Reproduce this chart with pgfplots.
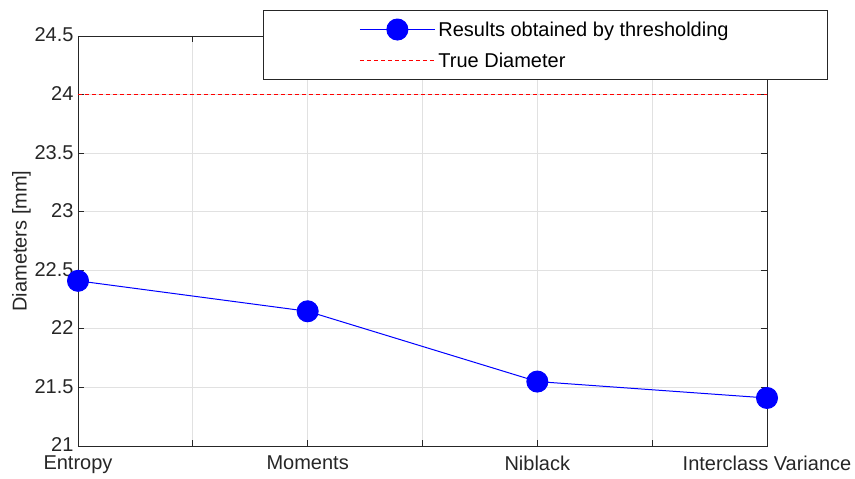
\documentclass[border=0pt]{standalone}
\usepackage{fontspec}
\setmainfont{Liberation Sans}
\usepackage{pgfplots}
\pgfplotsset{compat=1.18}
\definecolor{axgray}{RGB}{38,38,38}
\definecolor{gridgray}{RGB}{225,225,225}
\pgfplotsset{
  legmark/.style={legend image code/.code={
    \draw[##1, line width=1pt, mark repeat=2, mark phase=2] plot coordinates {(0pt,0pt) (37.5pt,0pt) (75pt,0pt)};
  }},
  legline/.style={legend image code/.code={
    \draw[##1, line width=0.9pt] (0pt,0pt) -- (75pt,0pt);
  }},
}
\begin{document}
\begin{tikzpicture}
\path[use as bounding box] (-78pt,-33pt) rectangle (777pt,446pt);
\begin{axis}[
  at={(0,0)}, anchor=south west,
  scale only axis,
  width=689pt, height=410pt,
  xmin=0, xmax=3, ymin=21, ymax=24.5,
  xtick={0,0.5,1,1.5,2,2.5,3},
  xticklabels={Entropy,,Moments,,Niblack,,Interclass Variance},
  ytick={21,21.5,22,22.5,23,23.5,24,24.5},
  yticklabels={21,21.5,22,22.5,23,23.5,24,24.5},
  grid=major,
  major grid style={gridgray, line width=0.8pt},
  axis line style={axgray, line width=0.8pt},
  tick style={axgray, line width=0.8pt},
  tick align=inside,
  major tick length=6pt,
  ticklabel style={font=\fontsize{20}{22}\selectfont, text=axgray},
  xticklabel style={yshift=-6pt},
  yticklabel style={xshift=-1pt, yshift=1pt},
  ylabel={Diameters [mm]},
  ylabel style={font=\fontsize{20}{22}\selectfont, text=axgray},
  ylabel shift=-3pt,
  legend cell align=left,
  legend style={
    at={(rel axis cs:0.6785,0.9780)}, anchor=center,
    draw=axgray, line width=0.8pt, fill=white,
    inner xsep=96pt, inner ysep=7pt,
    font=\fontsize{20}{22}\selectfont,
    nodes={text height=16pt, text depth=2pt, inner sep=3pt},
    row sep=7pt,
  },
]
\addplot[blue, line width=1pt, mark=*, mark size=10.5pt, mark options={fill=blue, draw=blue}, legmark]
  coordinates {(0,22.41) (1,22.15) (2,21.55) (3,21.41)};
\addlegendentry{Results obtained by thresholding}
\addplot[red, line width=0.9pt, dash pattern=on 4pt off 3pt, legline]
  coordinates {(0,24) (3,24)};
\addlegendentry{True Diameter}
\end{axis}
\end{tikzpicture}
\end{document}
